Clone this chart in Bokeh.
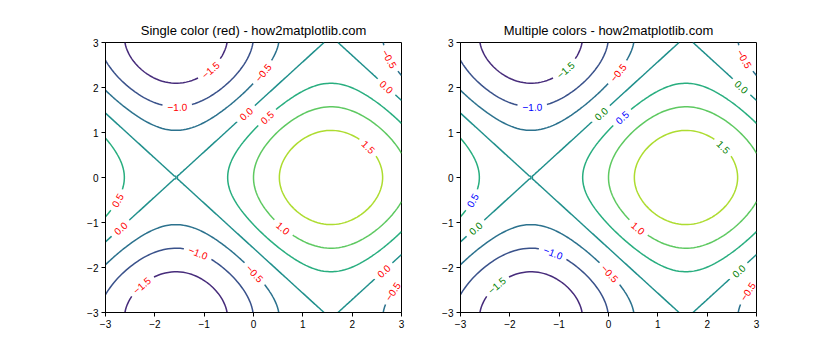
import numpy as np
import contourpy
from bokeh.plotting import figure
from bokeh.layouts import row
from bokeh.models import Range1d, ColumnDataSource, FixedTicker
from bokeh.palettes import Viridis256
from bokeh.embed import file_html
from bokeh.resources import INLINE
from bokeh.core.properties import value

# ---------------- data ----------------
titles = ["Single color (red) - how2matplotlib.com", "Multiple colors - how2matplotlib.com"]
levels = [-2.0, -1.5, -1.0, -0.5, 0.0, 0.5, 1.0, 1.5, 2.0]
x_grid = np.linspace(-3, 3, 100)
y_grid = np.linspace(-3, 3, 100)
# surface drawn in the reference: Z = sin(X) + cos(Y)
X, Y = np.meshgrid(x_grid, y_grid)
Z = np.sin(X) + np.cos(Y)

label_levels = [-1.5, -1.0, 0.0, -0.5, 0.5, -0.5, 0.0, 1.5, 0.5, 0.0, -1.0, -1.5, 1.0, -0.5, 0.0, -0.5]
label_x = [-0.87, -1.52, -0.20, 0.18, 0.24, 2.82, 2.72, 2.33, -2.76, -2.74, -1.12, -2.29, 0.61, 0.04, 2.62, 2.82]
label_y = [2.42, 1.60, 1.42, 2.33, 1.36, 2.64, 2.04, 0.69, -0.51, -1.11, -1.67, -2.36, -1.11, -2.11, -2.07, -2.56]
single_color = "red"
multi_colors = ["red", "green", "blue"]
ticks = [-3, -2, -1, 0, 1, 2, 3]

# ---------------- geometry ----------------
FW, FH = 296, 270
FONT = "Liberation Sans"
LABEL_PX = 10
CW = {"−": 0.584, "-": 0.333, ".": 0.278}


def to_screen(p):
    return np.column_stack([(p[:, 0] + 3) / 6 * FW, (p[:, 1] + 3) / 6 * FH])


def text_width(t):
    return sum(CW.get(c, 0.556) for c in t) * LABEL_PX


def fmt(lv):
    s = "%.1f" % lv
    return s.replace("-", "−")


def level_color(lv):
    v = (lv - levels[0]) / (levels[-1] - levels[0])
    return Viridis256[min(int(v * 256), 255)]


cg = contourpy.contour_generator(X, Y, Z, line_type=contourpy.LineType.Separate)
lines = {lv: [np.asarray(a) for a in cg.lines(lv) if len(a) > 1] for lv in levels}

labels = []
for lv, tx, ty in zip(label_levels, label_x, label_y):
    pieces = lines[lv]
    tgt = np.array([(tx + 3) / 6 * FW, (ty + 3) / 6 * FH])
    best = None
    for k, pc in enumerate(pieces):
        sp = to_screen(pc)
        d = np.hypot(sp[:, 0] - tgt[0], sp[:, 1] - tgt[1])
        i = int(np.argmin(d))
        if best is None or d[i] < best[0]:
            best = (d[i], k, i)
    _, k, idx = best
    pts = pieces[k]
    closed = len(pts) > 3 and np.allclose(pts[0], pts[-1])
    if closed:
        n = len(pts) - 1
        shift = (idx + n // 2) % n
        body = np.roll(pts[:-1], -shift, axis=0)
        pts = np.vstack([body, body[:1]])
        idx = (idx - shift) % n
    sp = to_screen(pts)
    seg = np.hypot(np.diff(sp[:, 0]), np.diff(sp[:, 1]))
    s = np.concatenate([[0.0], np.cumsum(seg)])
    s0 = s[idx]
    txt = fmt(lv)
    half = text_width(txt) / 2 + 5

    def interp(sv, arr):
        return np.array([np.interp(sv, s, arr[:, 0]), np.interp(sv, s, arr[:, 1])])

    pa = interp(max(s0 - 6, 0), sp)
    pb = interp(min(s0 + 6, s[-1]), sp)
    ang = np.arctan2(pb[1] - pa[1], pb[0] - pa[0])
    if ang > np.pi / 2:
        ang -= np.pi
    if ang <= -np.pi / 2:
        ang += np.pi
    a, b = s0 - half, s0 + half
    new = []
    mb = s < a
    if mb.any() and a > 0:
        new.append(np.vstack([pts[mb], interp(a, pts)]))
    ma = s > b
    if ma.any() and b < s[-1]:
        new.append(np.vstack([interp(b, pts), pts[ma]]))
    pieces = pieces[:k] + new + pieces[k + 1:]
    lines[lv] = pieces
    labels.append((pts[idx, 0], pts[idx, 1], txt, ang, lv))


def make_fig(title, label_colors, left, right):
    p = figure(width=left + FW + right, height=350, output_backend="svg", toolbar_location=None,
               x_range=Range1d(-3, 3), y_range=Range1d(-3, 3),
               min_border_left=left, min_border_right=right, min_border_top=42, min_border_bottom=38)
    p.title.text = title
    p.title.align = "center"
    p.title.text_font = FONT
    p.title.text_font_size = "13px"
    p.title.text_font_style = "normal"
    p.title.text_color = "black"
    p.grid.visible = False
    p.outline_line_color = "black"
    p.outline_line_alpha = 1
    p.outline_line_width = 1
    for ax in (p.xaxis, p.yaxis):
        ax.ticker = FixedTicker(ticks=ticks)
        ax.major_tick_in = 0
        ax.major_tick_out = 4
        ax.minor_tick_in = 0
        ax.minor_tick_out = 0
        ax.axis_line_color = "black"
        ax.major_tick_line_color = "black"
        ax.major_label_text_font = FONT
        ax.major_label_text_font_size = "10px"
        ax.major_label_text_color = "black"
        ax.major_label_standoff = 3
    for lv in levels:
        segs = lines[lv]
        if not segs:
            continue
        p.multi_line(xs=[list(sg[:, 0]) for sg in segs], ys=[list(sg[:, 1]) for sg in segs],
                     line_color=level_color(lv), line_width=1.5)
    src = ColumnDataSource(dict(
        x=[l[0] for l in labels], y=[l[1] for l in labels], text=[l[2] for l in labels],
        angle=[l[3] for l in labels], color=[label_colors(l[4]) for l in labels]))
    p.text(x="x", y="y", text="text", angle="angle", text_color="color", source=src,
           text_align="center", text_baseline="middle", text_font=value(FONT),
           text_font_size="%dpx" % LABEL_PX)
    return p


p1 = make_fig(titles[0], lambda lv: single_color, 105, 20)
p2 = make_fig(titles[1], lambda lv: multi_colors[levels.index(lv) % len(multi_colors)], 39, 84)
layout = row(p1, p2, spacing=0)

open("out.html", "w").write(file_html(layout, INLINE))
